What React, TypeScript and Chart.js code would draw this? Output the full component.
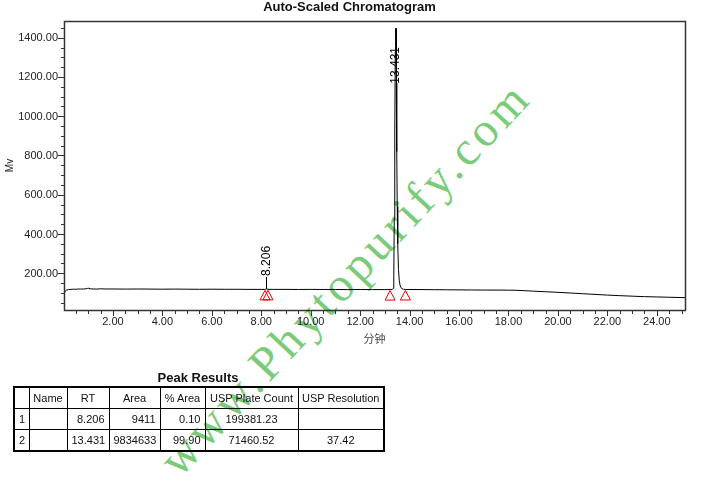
import React, { useEffect, useRef } from "react";
import { Chart, registerables } from "chart.js";

Chart.register(...registerables);

// Detector trace: retention time (min) and signal (mV)
const retentionTimes = [
  0.02, 0.06, 0.12, 0.2, 0.3, 0.4, 0.5, 0.6, 0.7, 0.8, 0.9, 0.97, 1.02, 1.08, 1.2, 1.35, 1.5, 1.7,
  2.0, 2.5, 3.0, 3.5, 4.0, 4.5, 5.0, 5.5, 6.0, 6.5, 7.0, 7.5, 8.0, 8.14, 8.18, 8.206, 8.23, 8.27,
  8.5, 9.0, 9.5, 10.0, 10.5, 11.0, 11.5, 12.0, 12.5, 13.0, 13.21, 13.3, 13.34, 13.36, 13.38, 13.4,
  13.42, 13.431, 13.445, 13.46, 13.48, 13.5, 13.52, 13.55, 13.58, 13.62, 13.68, 13.75, 13.83, 14.5,
  15.0, 15.5, 16.0, 16.5, 17.0, 17.5, 18.0, 18.3, 18.7, 19.0, 19.5, 20.0, 20.5, 21.0, 21.5, 22.0,
  22.5, 23.0, 23.5, 24.0, 24.5, 25.14,
];
const signal = [
  104, 108, 114, 117, 118, 119, 118.5, 120, 119.5, 120, 121, 123, 124, 121, 120, 119.5, 121, 120,
  120, 119.5, 120, 119.5, 119, 119.5, 119, 118.5, 119, 118.5, 118.5, 118, 118, 118, 119, 120.5, 119.5, 118.2,
  118, 118, 117.5, 118, 117.5, 117.5, 117, 117.5, 117, 117, 117, 117.5, 124, 190, 480, 920,
  1330, 1448, 1390, 1170, 820, 540, 350, 220, 165, 135, 122, 118.5, 117.5, 117,
  116.5, 116, 115.5, 115, 114.5, 114.5, 114, 113.5, 111, 109, 106, 103, 99.5, 96, 92.5, 89,
  86, 83.5, 81, 79.5, 78, 76,
];

// Integrated peaks
const peakTimes = [8.206, 13.431];
const peakLabels = ["8.206", "13.431"];
// Peak start / end markers
const markerTimes = [8.15, 8.27, 13.21, 13.83];
const markerValues = [118, 118.2, 117, 117.5];

// Axes
const X_MIN = 0.02;
const X_MAX = 25.14;
const Y_MIN = 13;
const Y_MAX = 1485;
const xTickValues = [2, 4, 6, 8, 10, 12, 14, 16, 18, 20, 22, 24];
const xTickLabels = ["2.00", "4.00", "6.00", "8.00", "10.00", "12.00", "14.00", "16.00", "18.00", "20.00", "22.00", "24.00"];
const yTickValues = [200, 400, 600, 800, 1000, 1200, 1400];
const yTickLabels = ["200.00", "400.00", "600.00", "800.00", "1000.00", "1200.00", "1400.00"];
const X_MINOR_STEP = 0.5;
const Y_MINOR_STEP = 50;

// Peak Results table
const tableHeaders = ["", "Name", "RT", "Area", "% Area", "USP Plate Count", "USP Resolution"];
const peakNumbers = ["1", "2"];
const peakNames = ["", ""];
const rtValues = ["8.206", "13.431"];
const areaValues = ["9411", "9834633"];
const areaPercents = ["0.10", "99.90"];
const plateCounts = ["199381.23", "71460.52"];
const resolutions = ["", "37.42"];

const SANS = '"Liberation Sans", Arial, sans-serif';

const chromatogramDecor = {
  id: "chromatogramDecor",
  afterDatasetsDraw(chart: any) {
    const { ctx, chartArea: a, scales } = chart;
    const x = scales.x;
    const y = scales.y;
    ctx.save();

    // title
    ctx.fillStyle = "#111";
    ctx.font = `bold 13px ${SANS}`;
    ctx.textAlign = "center";
    ctx.textBaseline = "middle";
    ctx.fillText("Auto-Scaled Chromatogram", 349.5, 7.5);

    // frame
    ctx.strokeStyle = "#333";
    ctx.lineWidth = 1.5;
    ctx.strokeRect(a.left + 0.5, a.top + 0.5, a.right - a.left, a.bottom - a.top);

    // x ticks
    ctx.lineWidth = 1;
    ctx.beginPath();
    for (let v = X_MINOR_STEP; v <= X_MAX; v += X_MINOR_STEP) {
      const px = Math.round(x.getPixelForValue(v)) + 0.5;
      const major = xTickValues.includes(v);
      ctx.moveTo(px, a.bottom);
      ctx.lineTo(px, a.bottom + (major ? 6 : 4));
    }
    // y ticks
    for (let v = Y_MINOR_STEP; v <= Y_MAX; v += Y_MINOR_STEP) {
      const py = Math.round(y.getPixelForValue(v)) + 0.5;
      const major = yTickValues.includes(v);
      ctx.moveTo(a.left, py);
      ctx.lineTo(a.left - (major ? 6 : 3), py);
    }
    ctx.stroke();

    ctx.fillStyle = "#222";
    ctx.font = `11px ${SANS}`;
    ctx.textAlign = "center";
    ctx.textBaseline = "middle";
    xTickValues.forEach((v, i) => {
      ctx.fillText(xTickLabels[i], x.getPixelForValue(v), a.bottom + 12);
    });
    ctx.textAlign = "right";
    yTickValues.forEach((v, i) => {
      ctx.fillText(yTickLabels[i], a.left - 6, y.getPixelForValue(v) + 0.5);
    });

    // axis titles
    ctx.fillStyle = "#444";
    ctx.font = `11px "Noto Sans CJK SC", ${SANS}`;
    ctx.textAlign = "center";
    ctx.fillText("分钟", (a.left + a.right) / 2, a.bottom + 29);
    ctx.save();
    ctx.translate(10, (a.top + a.bottom) / 2);
    ctx.rotate(-Math.PI / 2);
    ctx.font = `10px ${SANS}`;
    ctx.fillStyle = "#222";
    ctx.fillText("Mv", 0, 0);
    ctx.restore();

    // peak start / end markers
    ctx.strokeStyle = "#e00000";
    ctx.lineWidth = 1;
    markerTimes.forEach((t, i) => {
      const px = x.getPixelForValue(t);
      const py = y.getPixelForValue(markerValues[i]) + 1;
      ctx.beginPath();
      ctx.moveTo(px, py);
      ctx.lineTo(px + 5, py + 9.5);
      ctx.lineTo(px - 5, py + 9.5);
      ctx.closePath();
      ctx.stroke();
    });

    // retention time labels
    ctx.font = `12px ${SANS}`;
    ctx.fillStyle = "#000";
    ctx.strokeStyle = "#000";
    peakTimes.forEach((t, i) => {
      const idx = retentionTimes.indexOf(t);
      const px = x.getPixelForValue(t);
      const apexY = y.getPixelForValue(signal[idx]);
      const w = ctx.measureText(peakLabels[i]).width;
      const textBottom = Math.max(apexY - 13, a.top + w + 26);
      ctx.beginPath();
      ctx.moveTo(Math.round(px) + 0.5, textBottom + 1);
      ctx.lineTo(Math.round(px) + 0.5, apexY);
      ctx.stroke();
      ctx.save();
      ctx.translate(px, textBottom);
      ctx.rotate(-Math.PI / 2);
      ctx.textAlign = "left";
      ctx.textBaseline = "middle";
      ctx.fillText(peakLabels[i], 0, 0);
      ctx.restore();
    });

    ctx.restore();
  },
};

const colWidths = [15, 38, 42, 51, 45, 93, 86];
const cellBase: React.CSSProperties = {
  border: "1px solid #000",
  padding: "0 4px",
  height: 20,
  whiteSpace: "nowrap",
  overflow: "visible",
  fontFamily: SANS,
  fontSize: 11,
  color: "#111",
};

export default function App() {
  const canvasRef = useRef<HTMLCanvasElement>(null);

  useEffect(() => {
    const canvas = canvasRef.current;
    if (!canvas) return;
    const chart = new Chart(canvas, {
      type: "scatter",
      data: {
        datasets: [
          {
            data: retentionTimes.map((t, i) => ({ x: t, y: signal[i] })),
            showLine: true,
            borderColor: "#000",
            borderWidth: 1,
            pointRadius: 0,
            tension: 0,
            fill: false,
          },
        ],
      },
      options: {
        responsive: false,
        animation: false,
        events: [],
        layout: { padding: { left: 64, top: 21, right: 20, bottom: 172 } },
        scales: {
          x: { type: "linear", display: false, min: X_MIN, max: X_MAX },
          y: { type: "linear", display: false, min: Y_MIN, max: Y_MAX },
        },
        plugins: {
          legend: { display: false },
          tooltip: { enabled: false },
          title: { display: false },
        },
      },
      plugins: [chromatogramDecor],
    });
    return () => chart.destroy();
  }, []);

  const rows = peakNumbers.map((n, i) => [
    { text: n, align: "left" },
    { text: peakNames[i], align: "left" },
    { text: rtValues[i], align: "right" },
    { text: areaValues[i], align: "right" },
    { text: areaPercents[i], align: "right" },
    { text: plateCounts[i], align: "center" },
    { text: resolutions[i], align: "center" },
  ]);

  return (
    <div style={{ position: "absolute", left: 0, top: 0, width: 705, height: 482, background: "#fff", overflow: "hidden" }}>
      <div
        style={{
          position: "absolute",
          left: 345,
          top: 278,
          transform: "translate(-50%, -50%) rotate(-47deg)",
          whiteSpace: "nowrap",
          fontFamily: '"Liberation Serif", "Times New Roman", serif',
          fontSize: 48,
          letterSpacing: 4.5,
          color: "rgb(122, 204, 122)",
          lineHeight: 1,
        }}
      >
        www.Phytopurify.com
      </div>
      <canvas ref={canvasRef} width={705} height={482} style={{ position: "absolute", left: 0, top: 0, display: "block" }} />
      <div
        style={{
          position: "absolute",
          left: 13,
          top: 370,
          width: 370,
          textAlign: "center",
          fontFamily: SANS,
          fontWeight: "bold",
          fontSize: 13,
          color: "#111",
          lineHeight: "16px",
        }}
      >
        Peak Results
      </div>
      <table
        style={{
          position: "absolute",
          left: 13,
          top: 386,
          width: 370,
          borderCollapse: "collapse",
          border: "2px solid #000",
          tableLayout: "fixed",
        }}
      >
        <colgroup>
          {colWidths.map((w, i) => (
            <col key={i} style={{ width: w }} />
          ))}
        </colgroup>
        <thead>
          <tr>
            {tableHeaders.map((h, i) => (
              <th key={i} style={{ ...cellBase, padding: 0, fontWeight: "normal", textAlign: "center" }}>
                {h}
              </th>
            ))}
          </tr>
        </thead>
        <tbody>
          {rows.map((r, ri) => (
            <tr key={ri}>
              {r.map((c, ci) => (
                <td key={ci} style={{ ...cellBase, textAlign: c.align as any }}>
                  {c.text}
                </td>
              ))}
            </tr>
          ))}
        </tbody>
      </table>
    </div>
  );
}
